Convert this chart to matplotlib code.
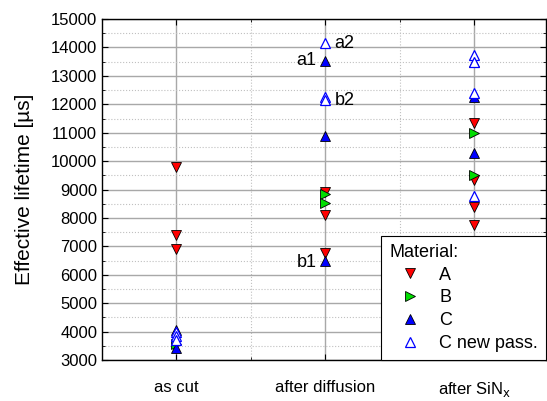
import numpy as np
import matplotlib.pyplot as plt
from matplotlib.ticker import MultipleLocator

plt.rcParams['font.family'] = ['Liberation Sans', 'DejaVu Sans']

stages = ["as cut", "after diffusion", r"after SiN$_\mathrm{x}$"]

# lifetimes in microseconds, per material and stage (1, 2, 3)
a_x = [1, 1, 1, 2, 2, 2, 3, 3, 3, 3]
a_y = [9780, 7400, 6900, 8900, 8110, 6780, 11350, 9350, 8380, 7760]
b_x = [1, 2, 2, 3, 3]
b_y = [3550, 8850, 8540, 10980, 9500]
c_x = [1, 1, 2, 2, 2, 3, 3, 3]
c_y = [3420, 4050, 13540, 10880, 6500, 13480, 12250, 10280]
cn_x = [1, 1, 1, 2, 2, 2, 3, 3, 3, 3]
cn_y = [4000, 3850, 3700, 14150, 12250, 12150, 13740, 13490, 12400, 8780]

fig = plt.figure(figsize=(5.47, 4.01), dpi=100)
ax = fig.add_axes([0.1865, 0.102, 0.8115, 0.8505])

ms = 7
ax.plot(a_x, a_y, 'v', ms=ms, mfc='red', mec='black', mew=0.6, ls='none', label='A', zorder=3)
ax.plot(b_x, b_y, '>', ms=ms, mfc='#00dd00', mec='black', mew=0.6, ls='none', label='B', zorder=3)
ax.plot(c_x, c_y, '^', ms=ms, mfc='blue', mec='black', mew=0.6, ls='none', label='C', zorder=3)
ax.plot(cn_x, cn_y, '^', ms=ms, mfc='white', mec='blue', mew=0.9, ls='none', label='C new pass.', zorder=4)

ax.text(2.06, 14150, "a2", fontsize=13, va='center', ha='left')
ax.text(1.94, 13540, "a1", fontsize=13, va='center', ha='right')
ax.text(2.06, 12150, "b2", fontsize=13, va='center', ha='left')
ax.text(1.94, 6450, "b1", fontsize=13, va='center', ha='right')

ax.set_xlim(0.5, 3.48)
ax.set_ylim(3000, 15000)
ax.set_xticks([1, 2, 3])
ax.set_xticklabels(stages, fontsize=12)
ax.xaxis.set_minor_locator(MultipleLocator(1, offset=0.5))
ax.yaxis.set_major_locator(MultipleLocator(1000))
ax.yaxis.set_minor_locator(MultipleLocator(500))
ax.tick_params(axis='y', which='both', direction='in', right=True, labelsize=12)
ax.tick_params(axis='x', which='both', direction='in', top=True, pad=14)
ax.tick_params(axis='x', which='minor', length=0)
ax.tick_params(which='major', length=4)
ax.tick_params(which='minor', length=2)

ax.grid(which='major', color='#a8a8a8', lw=1.0, ls='-', zorder=0)
ax.grid(which='minor', color='#c0c0c0', lw=0.8, ls=':', zorder=0)
ax.set_axisbelow(True)

ax.set_ylabel("Effective lifetime [µs]", fontsize=15, labelpad=12)

leg = ax.legend(title="Material:", loc='lower right', fontsize=13, title_fontsize=13,
                frameon=True, fancybox=False, edgecolor='black', framealpha=1,
                borderpad=0.45, handletextpad=0.45, handlelength=2.3, labelspacing=0.32,
                borderaxespad=0, bbox_to_anchor=(1.0, 0.0))
leg._legend_box.align = "left"
leg.get_frame().set_linewidth(0.8)

for s in ax.spines.values():
    s.set_linewidth(1.0)

fig.savefig("out.png", dpi=100)
